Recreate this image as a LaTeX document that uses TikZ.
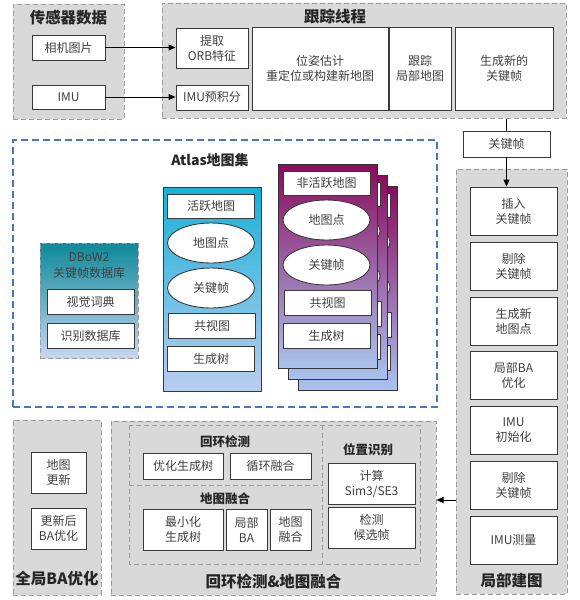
\documentclass[tikz,border=0pt]{standalone}
\usepackage{fontspec}
\setmainfont{Noto Sans CJK SC}
\usepackage{tikz}
\usetikzlibrary{arrows.meta,shapes.geometric}
\definecolor{panelCol}{HTML}{D9D9D9}
\definecolor{panelEdge}{HTML}{9C9C9C}
\definecolor{atlasCol}{HTML}{4A76C6}
\definecolor{edgeCol}{HTML}{3A3A3A}
\definecolor{txtCol}{HTML}{404040}
\definecolor{actTop}{HTML}{16B1D8}
\definecolor{actBot}{HTML}{BACDF0}
\definecolor{inTop}{HTML}{8A0A5C}
\definecolor{inMid}{HTML}{8E80C4}
\definecolor{inBot}{HTML}{AAC3EE}
\definecolor{dbTop}{HTML}{0D8899}
\definecolor{dbBot}{HTML}{C6D6F3}
\tikzset{
  panel/.style={draw=panelEdge, fill=panelCol, line width=1pt, dash pattern=on 5pt off 3pt},
  ptitle/.style={font=\fontsize{15.5}{18}\selectfont\bfseries, text=black!85, inner sep=0pt},
  stitle/.style={font=\fontsize{12.5}{14}\selectfont\bfseries, text=black!85, inner sep=0pt},
  wbox/.style={draw=edgeCol, fill=white, line width=0.9pt, align=center, inner sep=1pt,
               font=\fontsize{12}{15}\selectfont, text=txtCol},
  oval/.style={ellipse, draw=edgeCol, fill=white, line width=0.9pt, inner sep=0pt,
               minimum width=87pt, minimum height=40pt, font=\fontsize{12}{15}\selectfont, text=txtCol},
  actcard/.style={draw=edgeCol, line width=1pt, top color=actTop, bottom color=actBot,
                  minimum width=98pt, minimum height=204pt},
  inactcard/.style={draw=black!80, line width=1pt, top color=inTop, middle color=inMid, bottom color=inBot,
                    minimum width=99pt, minimum height=204pt},
  inner/.style={draw=panelEdge, line width=1pt, dash pattern=on 5pt off 3pt},
  arr/.style={-{Triangle[length=7pt,width=6pt]}, line width=1pt, black},
}
% one map of the atlas, drawn round (0,0)
\newcommand{\mapcard}[3]{%
  \node[#2] (#1) at (0,0) {};
  \node[wbox, minimum width=87pt, minimum height=24pt] (#1-t) at (-1,-83) {#3};
  \node[oval] (#1-mp) at (-1,-46) {地图点};
  \node[oval] (#1-kf) at (-1,-1) {关键帧};
  \node[wbox, minimum width=87pt, minimum height=25pt] (#1-cv) at (0,36.5) {共视图};
  \node[wbox, minimum width=87pt, minimum height=25pt] (#1-st) at (-1,69.5) {生成树};}

\begin{document}
\begin{tikzpicture}[x=1pt,y=-1pt]
  \useasboundingbox (0,0) rectangle (579,600);

  % sensor data
  \node[panel, minimum width=111pt, minimum height=115pt] (sens) at (68.5,61.5) {};
  \node[ptitle] (sensT) at (68.5,18) {传感器数据};
  \node[wbox, minimum width=73pt, minimum height=25pt] (cam) at (68.5,47.5) {相机图片};
  \node[wbox, minimum width=73pt, minimum height=24pt] (imu) at (68.5,97) {IMU};

  % tracking
  \node[panel, minimum width=404pt, minimum height=115pt] (track) at (364,60.5) {};
  \node[ptitle] (trackT) at (335,17) {跟踪线程};
  \node[wbox, minimum width=72pt, minimum height=40pt] (orb) at (212,48) {提取\\ORB特征};
  \node[wbox, minimum width=72pt, minimum height=25pt] (pre) at (212,97.5) {IMU预积分};
  \node[wbox, minimum width=136pt, minimum height=83pt] (pose) at (320,68.5) {位姿估计\\重定位或构建新地图};
  \node[wbox, minimum width=62pt, minimum height=83pt] (trk) at (420,68.5) {跟踪\\局部地图};
  \node[wbox, minimum width=98pt, minimum height=83pt] (newkf) at (504,68.5) {生成新的\\关键帧};

  \draw[arr] (cam) -- (cam -| orb.west);
  \draw[arr] (imu) -- (imu -| pre.west);

  \node[wbox, minimum width=87pt, minimum height=26pt] (kf) at (506.5,144) {关键帧};

  % local mapping
  \node[panel, minimum width=111pt, minimum height=425pt] (lmap) at (511.5,381.5) {};
  \node[ptitle] (lmapT) at (511.5,581) {局部建图};
  \foreach \y/\n/\t in {211/ins/插入\\关键帧, 266/cul/剔除\\关键帧, 321/nmp/生成新\\地图点,
                        375/lba/局部BA\\优化, 430/ini/IMU\\初始化, 485/cul2/剔除\\关键帧, 540/mea/IMU测量}
    \node[wbox, minimum width=87pt, minimum height=48pt] (\n) at (513.5,\y) {\t};

  \draw[line width=1pt] (track.south -| kf.north) -- (kf.north);
  \draw[arr] (kf.south) -- (kf.south |- ins.north);

  % atlas
  \node[draw=atlasCol, line width=1.2pt, dash pattern=on 7pt off 4pt,
        minimum width=424pt, minimum height=267pt] (atlas) at (225,273.5) {};
  \node[font=\fontsize{14}{16}\selectfont\bfseries, text=black!85, inner sep=0pt] (atlasT) at (210,160) {Atlas地图集};

  \node[draw=panelEdge, line width=1pt, dash pattern=on 5pt off 3pt, top color=dbTop, bottom color=dbBot,
        minimum width=98pt, minimum height=115pt] (dbow) at (89,300.5) {};
  \node[align=center, font=\fontsize{12}{16}\selectfont, text=txtCol, inner sep=0pt] (dbowT) at (89,266) {DBoW2\\关键帧数据库};
  \node[wbox, minimum width=87pt, minimum height=25pt] (voc) at (90.5,301.5) {视觉词典};
  \node[wbox, minimum width=87pt, minimum height=25pt] (rec) at (90.5,335.5) {识别数据库};

  \begin{scope}[shift={(212,289)}]
    \mapcard{act}{actcard}{活跃地图}
  \end{scope}
  \foreach \k in {2,1,0}{
    \begin{scope}[shift={(327.5+\k*10,266+\k*11)}]
      \mapcard{inact\k}{inactcard}{非活跃地图}
    \end{scope}}

  % global BA
  \node[panel, minimum width=88pt, minimum height=175pt] (gba) at (57,507.5) {};
  \node[ptitle] (gbaT) at (57,579) {全局BA优化};
  \node[wbox, minimum width=55pt, minimum height=41pt] (upd) at (58.5,472.5) {地图\\更新};
  \node[wbox, minimum width=55pt, minimum height=41pt] (gbaopt) at (58.5,528.5) {更新后\\BA优化};

  % loop closing and map merging
  \node[panel, minimum width=325pt, minimum height=174pt] (loop) at (273.5,508) {};
  \node[ptitle] (loopT) at (273.5,582) {回环检测\&地图融合};
  \draw[inner] (129,425) rectangle (420,564);
  \draw[inner] (322,425) -- (322,564);
  \draw[inner] (129,485) -- (322,485);
  \node[stitle] (lcT) at (225,442) {回环检测};
  \node[stitle] (mmT) at (225,499) {地图融合};
  \node[stitle] (prT) at (368,450) {位置识别};
  \node[wbox, minimum width=80pt, minimum height=26pt] (opt) at (183,466) {优化生成树};
  \node[wbox, minimum width=81pt, minimum height=26pt] (lpf) at (270.5,466) {循环融合};
  \node[wbox, minimum width=80pt, minimum height=41pt] (mst) at (183,529.5) {最小化\\生成树};
  \node[wbox, minimum width=41pt, minimum height=41pt] (mba) at (246.5,529.5) {局部\\BA};
  \node[wbox, minimum width=41pt, minimum height=41pt] (mfu) at (290.5,529.5) {地图\\融合};
  \node[wbox, minimum width=87pt, minimum height=41pt] (sim) at (371.5,483.5) {计算\\Sim3/SE3};
  \node[wbox, minimum width=87pt, minimum height=41pt] (det) at (371.5,527.5) {检测\\候选帧};

  \draw[arr] (lmap.west |- 0,500) -- (loop.east |- 0,500);
\end{tikzpicture}
\end{document}
